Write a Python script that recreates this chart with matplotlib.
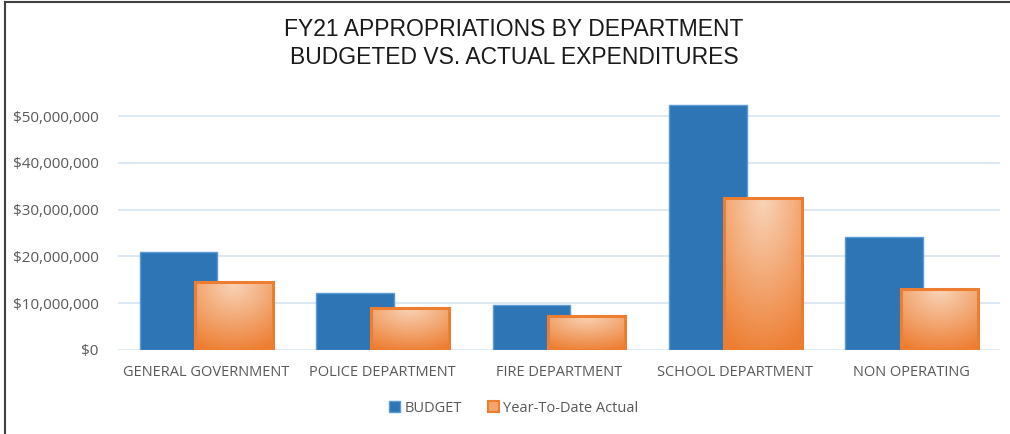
import matplotlib
matplotlib.use("Agg")
import matplotlib.pyplot as plt
import numpy as np
from matplotlib.patches import Patch
from matplotlib.ticker import FuncFormatter, MultipleLocator
from matplotlib.colors import to_rgb

categories = ["GENERAL GOVERNMENT", "POLICE DEPARTMENT", "FIRE DEPARTMENT",
              "SCHOOL DEPARTMENT", "NON OPERATING"]
budget = [20.9e6, 12.2e6, 9.6e6, 52.3e6, 24.1e6]
actual = [14.5e6, 9.0e6, 7.3e6, 32.5e6, 13.0e6]
series_names = ["BUDGET", "Year-To-Date Actual"]
title_lines = ["FY21 APPROPRIATIONS BY DEPARTMENT", "BUDGETED VS. ACTUAL EXPENDITURES"]

BLUE = "#2E75B6"
BLUE_EDGE = "#5B9BD5"
ORANGE = "#ED7D31"
LIGHT = "#F9D5BA"
GRID = "#D6E4F2"
TXT = "#595959"

fig = plt.figure(figsize=(10.10, 4.34), dpi=100)
ax = fig.add_axes([118/1010, 1-350/434, (1000-118)/1010, (350-92.6)/434])

x = np.arange(len(categories))
w = 0.44
off = 0.156
ax.bar(x - off, budget, width=w, color=BLUE, edgecolor=BLUE_EDGE, linewidth=1, zorder=2)
bars = ax.bar(x + off, actual, width=w, facecolor="none", edgecolor=ORANGE, linewidth=2.2, zorder=4)

# gradient fill for actual bars
lc = np.array(to_rgb(LIGHT))
dc = np.array(to_rgb(ORANGE))
for b in bars:
    x0, y0 = b.get_x(), b.get_y()
    bw, bh = b.get_width(), b.get_height()
    ny, nx = 120, 60
    u = np.linspace(0, 1, nx)
    v = np.linspace(1, 0, ny)  # top row first
    U, V = np.meshgrid(u, v)
    d = np.sqrt(((U - 0.5) / 0.95) ** 2 + ((V - 1.0) / 1.08) ** 2)
    t = np.clip(d, 0, 1)
    img = lc[None, None, :] * (1 - t[..., None]) + dc[None, None, :] * t[..., None]
    im = ax.imshow(img, extent=[x0, x0 + bw, y0, y0 + bh], aspect="auto",
                   zorder=3, interpolation="bilinear")
    im.set_clip_path(b)

ax.set_xlim(-0.5, len(categories) - 0.5)
ax.set_ylim(0, 55e6)
ax.yaxis.set_major_locator(MultipleLocator(10e6))
ax.yaxis.set_major_formatter(FuncFormatter(lambda v, p: f"${v:,.0f}"))
ax.set_xticks(x)
ax.set_xticklabels(categories)
ax.grid(axis="y", color=GRID, linewidth=1.2, zorder=0)
ax.set_axisbelow(True)
for s in ax.spines.values():
    s.set_visible(False)
ax.tick_params(axis="both", length=0, colors=TXT, labelsize=10.5)
ax.tick_params(axis="y", pad=14, labelsize=11)
ax.tick_params(axis="x", pad=11)
for lab in ax.get_xticklabels() + ax.get_yticklabels():
    lab.set_fontfamily("Open Sans")
    lab.set_color(TXT)

fig.text(514/1010, 1-30/434, title_lines[0], ha="center", va="center",
         fontsize=16.5, family="Liberation Sans", color="#1a1a1a")
fig.text(514/1010, 1-57/434, title_lines[1], ha="center", va="center",
         fontsize=16.5, family="Liberation Sans", color="#1a1a1a")

handles = [Patch(facecolor=BLUE, edgecolor=BLUE_EDGE, label=series_names[0]),
           Patch(facecolor="#F4A56E", edgecolor=ORANGE, linewidth=1.5, label=series_names[1])]
leg = fig.legend(handles=handles, loc="center", bbox_to_anchor=(514/1010, 1-408/434),
                 ncol=2, frameon=False, handlelength=0.75, handleheight=0.75,
                 handletextpad=0.3, columnspacing=1.8,
                 prop={"family": "Open Sans", "size": 10.5})
for t in leg.get_texts():
    t.set_color(TXT)

# border lines (left and top)
fig.add_artist(plt.Line2D([5/1010, 5/1010], [0, 1-2/434], color="#404040", linewidth=1.5,
                          transform=fig.transFigure))
fig.add_artist(plt.Line2D([5/1010, 1], [1-2/434, 1-2/434], color="#404040", linewidth=1.5,
                          transform=fig.transFigure))

fig.savefig("out.png", dpi=100)
